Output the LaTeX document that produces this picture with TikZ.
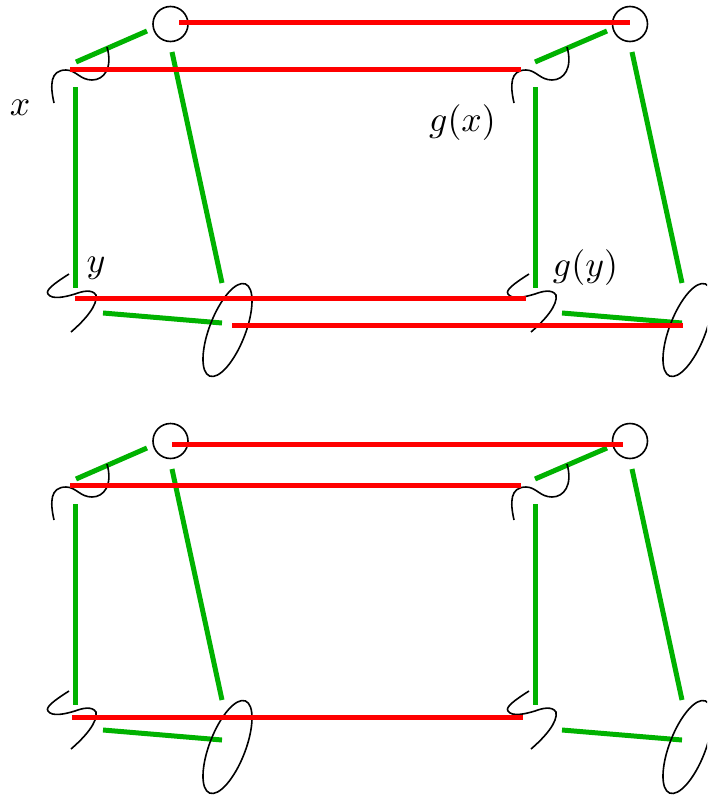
\documentclass[tikz,border=0pt]{standalone}
\definecolor{gr}{RGB}{0,178,0}
\tikzset{
  grn/.style={draw=gr,line width=5pt},
  rd/.style={draw=red,line width=5pt},
  blk/.style={draw=black,line width=1.6pt},
  lab/.style={scale=3.58,transform shape,inner sep=0pt},
  knotA/.pic={\draw[blk] (54,-103) .. controls (50,-85) and (50,-70) .. (66,-70) .. controls (76,-70) and (80,-80) .. (92,-80) .. controls (104,-80) and (113,-68) .. (107,-47);},
  knotB/.pic={\draw[blk] (69,-274) .. controls (55,-283) and (45,-290) .. (48,-294) .. controls (52,-300) and (65,-297) .. (75,-294) .. controls (83,-291) and (92,-289) .. (96,-295) .. controls (98,-305) and (85,-320) .. (71,-332);},
  loopE/.pic={\draw[blk,rotate around={68.8:(227.5,-330)}] (227.5,-330) ellipse (49.4 and 18);},
  frame/.pic={
    \draw[grn] (76,-62) -- (147,-31);
    \draw[grn] (75,-87) -- (75,-288);
    \draw[grn] (172,-52) -- (222,-283);
    \draw[grn] (103,-313) -- (222,-323);
    \draw[grn] (535,-62) -- (607,-31);
    \draw[grn] (535,-87) -- (535,-288);
    \draw[grn] (632,-52) -- (682,-283);
    \draw[grn] (562,-313) -- (682,-323);
    \draw[blk] (170.5,-24) circle (17.5);
    \draw[blk] (630,-24) circle (17.5);
    \pic at (0,0) {knotA};
    \pic at (460,0) {knotA};
    \pic at (0,0) {knotB};
    \pic at (460,0) {knotB};
    \pic at (0,0) {loopE};
    \pic at (460,0) {loopE};
  }
}
\begin{document}
\begin{tikzpicture}[x=1pt,y=1pt]
\useasboundingbox (0,-795) rectangle (707,0);
\clip (0,-795) rectangle (707,0);
\pic at (0,0) {frame};
\pic at (0,-417) {frame};
\draw[rd] (179,-22) -- (630,-22);
\draw[rd] (70,-69) -- (521,-69);
\draw[rd] (75,-298) -- (526,-298);
\draw[rd] (232,-325) -- (683,-325);
\draw[rd] (172,-444) -- (623,-444);
\draw[rd] (70,-485) -- (521,-485);
\draw[rd] (72,-717) -- (523,-717);
\node[lab] (lx) at (20,-108) {$x$};
\node[lab] (ly) at (96,-268) {$y$};
\node[lab] (lgx) at (462.5,-123) {$g(x)$};
\node[lab] (lgy) at (585.5,-268) {$g(y)$};
\end{tikzpicture}
\end{document}
